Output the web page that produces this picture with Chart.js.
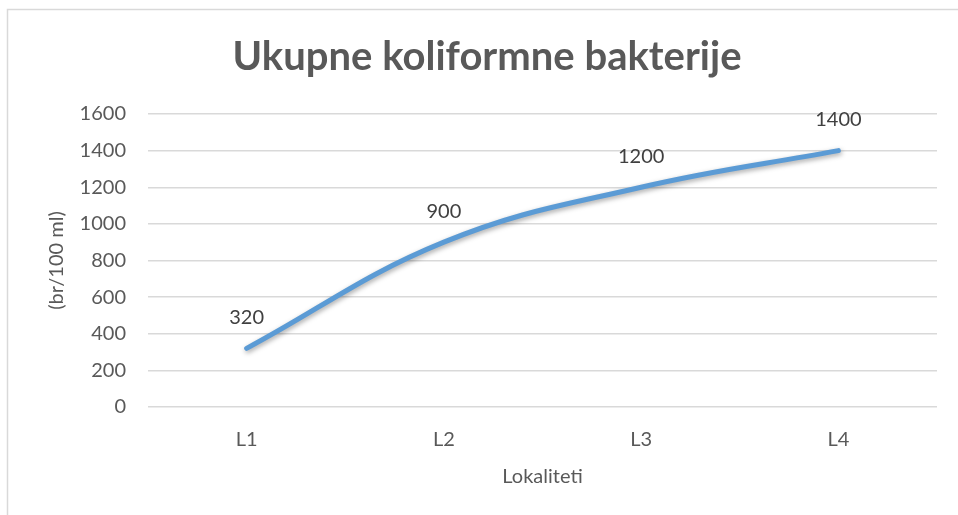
<!DOCTYPE html>
<html>
<head>
<meta charset="utf-8">
<script src="https://cdn.jsdelivr.net/npm/chart.js@4"></script>
<style>
  html, body { margin: 0; padding: 0; background: #fff; }
  #wrap { width: 958px; height: 515px; position: relative; }
</style>
</head>
<body>
<div id="wrap"><canvas id="chart"></canvas></div>
<script>
const categories = ["L1", "L2", "L3", "L4"];
const values = [320, 900, 1200, 1400];
const yTicks = [0, 200, 400, 600, 800, 1000, 1200, 1400, 1600];
const chartTitle = "Ukupne koliformne bakterije";

const fontFamily = "Lato, 'Open Sans', sans-serif";
const textGrey = "#595959";

// white background, frame (cropped at right / bottom) and the big title
const framePlugin = {
    id: "frame",
    beforeDraw(chart) {
        const c = chart.ctx;
        c.save();
        c.fillStyle = "#fff";
        c.fillRect(0, 0, chart.width, chart.height);
        c.strokeStyle = "#d9d9d9";
        c.lineWidth = 1.5;
        c.strokeRect(7.5, 9.5, chart.width + 20, chart.height + 20);
        c.fillStyle = textGrey;
        c.font = "bold 40px " + fontFamily;
        c.textAlign = "center";
        c.textBaseline = "alphabetic";
        c.fillText(chartTitle, 487, 70);
        c.restore();
    }
};

// soft shadow under the line
const shadowPlugin = {
    id: "lineShadow",
    beforeDatasetDraw(chart) {
        const c = chart.ctx;
        c.save();
        c.shadowColor = "rgba(0,0,0,0.35)";
        c.shadowBlur = 5;
        c.shadowOffsetX = 1;
        c.shadowOffsetY = 2;
    },
    afterDatasetDraw(chart) {
        chart.ctx.restore();
    }
};

// value labels above each point
const labelPlugin = {
    id: "valueLabels",
    afterDatasetsDraw(chart) {
        const c = chart.ctx;
        const meta = chart.getDatasetMeta(0);
        c.save();
        c.fillStyle = "#404040";
        c.font = "20px " + fontFamily;
        c.textAlign = "center";
        c.textBaseline = "middle";
        meta.data.forEach((pt, i) => {
            c.fillText(String(values[i]), pt.x, pt.y - 31);
        });
        c.restore();
    }
};

new Chart(document.getElementById("chart"), {
    type: "line",
    data: {
        labels: categories,
        datasets: [{
            data: values,
            borderColor: "#5b9bd5",
            borderWidth: 5,
            borderCapStyle: "round",
            tension: 0.4,
            pointRadius: 0,
            pointHoverRadius: 0,
            fill: false
        }]
    },
    options: {
        responsive: true,
        maintainAspectRatio: false,
        animation: false,
        layout: { padding: { left: 33, right: 21, top: 114, bottom: 26 } },
        plugins: {
            legend: { display: false },
            tooltip: { enabled: false },
            title: { display: false }
        },
        scales: {
            x: {
                offset: true,
                afterFit(scale) { scale.height = 82; },
                grid: { display: false, drawTicks: false },
                border: { display: false },
                ticks: {
                    color: textGrey,
                    padding: 21,
                    font: { family: fontFamily, size: 20 }
                },
                title: {
                    display: true,
                    text: "Lokaliteti",
                    color: textGrey,
                    font: { family: fontFamily, size: 20 },
                    padding: { top: 0, bottom: 0 }
                }
            },
            y: {
                min: 0,
                max: 1600,
                afterBuildTicks(scale) {
                    scale.ticks = yTicks.map(v => ({ value: v }));
                },
                afterFit(scale) { scale.width = 115; },
                grid: { color: "#d9d9d9", lineWidth: 1.5, drawTicks: false },
                border: { display: false },
                ticks: {
                    color: textGrey,
                    padding: 22,
                    font: { family: fontFamily, size: 20 },
                    callback: (v) => String(v)
                },
                title: {
                    display: true,
                    text: "(br/100 ml)",
                    color: textGrey,
                    font: { family: fontFamily, size: 20 },
                    padding: { top: 12, bottom: 0 }
                }
            }
        }
    },
    plugins: [framePlugin, shadowPlugin, labelPlugin]
});
</script>
</body>
</html>
